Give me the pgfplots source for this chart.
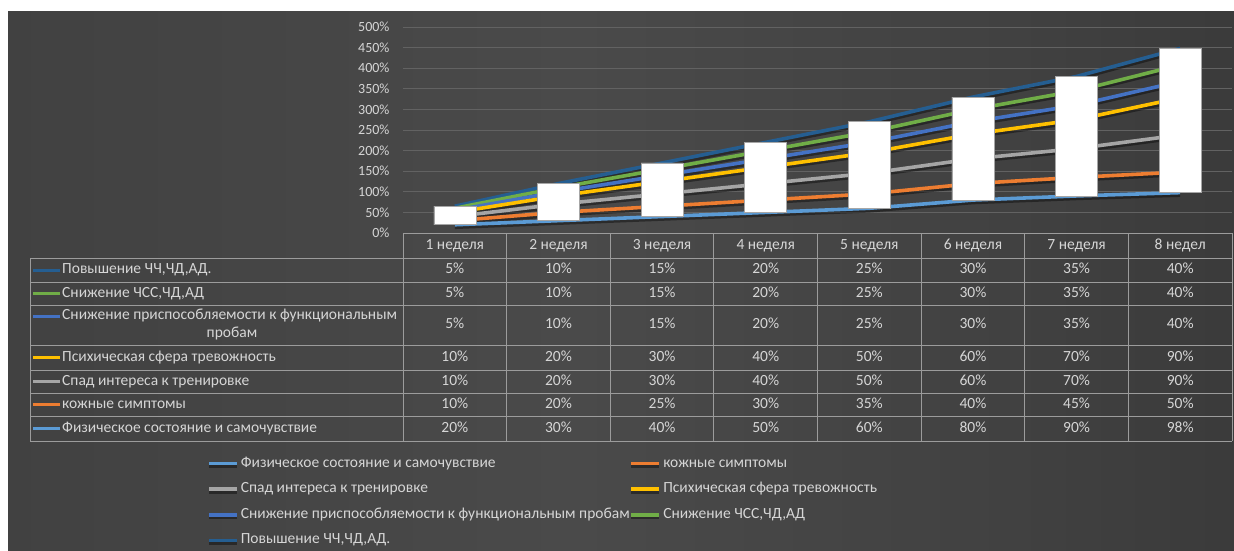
\documentclass[border=0pt]{standalone}
\usepackage{pgfplots}
\pgfplotsset{compat=1.18}
\usepackage{pgfplotstable}
\usepackage{fontspec}
\setmainfont{Carlito}
\definecolor{cPhys}{HTML}{5B9BD5}
\definecolor{cSkin}{HTML}{ED7D31}
\definecolor{cInt}{HTML}{A5A5A5}
\definecolor{cPsy}{HTML}{FFC000}
\definecolor{cAda}{HTML}{4472C4}
\definecolor{cDec}{HTML}{70AD47}
\definecolor{cInc}{HTML}{255E91}
\definecolor{txt}{HTML}{D6D6D6}
\definecolor{gridc}{HTML}{626262}
\definecolor{tline}{HTML}{9C9C9C}
\definecolor{bg0}{HTML}{262626}
\definecolor{bg1}{HTML}{404040}
\definecolor{bg2}{HTML}{4A4A4A}
\definecolor{bg3}{HTML}{414141}
\definecolor{bg4}{HTML}{292929}
\pgfdeclarehorizontalshading{bgshade}{100bp}{color(0bp)=(bg0); color(22bp)=(bg1); color(48bp)=(bg2); color(66bp)=(bg3); color(100bp)=(bg4)}
\newcommand\cf{\fontsize{15.5}{17}\selectfont}

\pgfplotstableread{
x phys skin int psy ada dec inc
1 20 10 10 10 5 5 5
2 30 20 20 20 10 10 10
3 40 25 30 30 15 15 15
4 50 30 40 40 20 20 20
5 60 35 50 50 25 25 25
6 80 40 60 60 30 30 30
7 90 45 70 70 35 35 35
8 98 50 90 90 40 40 40
}\datatable

\begin{document}
\begin{tikzpicture}[x=1pt,y=1pt]
\fill[white] (0,0) rectangle (1234,-551);
\shade[shading=bgshade] (8,-12) rectangle (1234,-551);

% lines axis
\begin{axis}[
  at={(403pt,-233pt)}, anchor=south west,
  scale only axis, width=829pt, height=206pt,
  xmin=0.5, xmax=8.5, ymin=0, ymax=500,
  axis line style={draw=none},
  xtick=\empty,
  ytick={0,50,...,500},
  yticklabel={\pgfmathprintnumber{\tick}\%},
  /pgf/number format/assume math mode=true,
  yticklabel style={text=txt, font=\fontsize{14}{16}\selectfont, xshift=-10pt},
  tick style={draw=none},
  ymajorgrids, major grid style={gridc, line width=0.8pt},
  stack plots=y,
  every axis plot/.append style={line width=3.6pt, line join=round,
     preaction={draw=black, draw opacity=0.4, line width=3.6pt, transform canvas={yshift=-2.5pt}}},
  legend columns=2,
  legend cell align=left,
  legend image code/.code={\draw[#1] (0pt,0pt) -- (28pt,0pt);},
  legend style={at={(axis description cs:-0.2364,-1.087)}, anchor=north west,
     draw=none, fill=none, inner sep=0pt, text=txt, font=\cf,
     column sep=2pt, row sep=12.6pt,
     nodes={inner sep=0pt, text height=10pt, text depth=3pt},
     /tikz/every even column/.append style={column sep=0pt}},
]
\addplot[cPhys] table[x=x,y=phys]{\datatable};
\addlegendentry{Физическое состояние и самочувствие}
\addplot[cSkin] table[x=x,y=skin]{\datatable};
\addlegendentry{кожные симптомы}
\addplot[cInt] table[x=x,y=int]{\datatable};
\addlegendentry{Спад интереса к тренировке}
\addplot[cPsy] table[x=x,y=psy]{\datatable};
\addlegendentry{Психическая сфера тревожность}
\addplot[cAda] table[x=x,y=ada]{\datatable};
\addlegendentry{Снижение приспособляемости к функциональным пробам}
\addplot[cDec] table[x=x,y=dec]{\datatable};
\addlegendentry{Снижение ЧСС,ЧД,АД}
\addplot[cInc] table[x=x,y=inc]{\datatable};
\addlegendentry{Повышение ЧЧ,ЧД,АД.}
\end{axis}

% up/down bars axis: from the first series up to the top of the stack
\begin{axis}[
  at={(403pt,-233pt)}, anchor=south west,
  scale only axis, width=829pt, height=206pt,
  xmin=0.5, xmax=8.5, ymin=0, ymax=500,
  hide axis, ybar stacked, bar width=42pt,
]
\addplot[draw=none, fill=none] table[x=x,y=phys]{\datatable};
\addplot[draw=black!35, line width=0.6pt, fill=white] table[x=x,
  y expr=\thisrow{skin}+\thisrow{int}+\thisrow{psy}+\thisrow{ada}+\thisrow{dec}+\thisrow{inc}]{\datatable};
\end{axis}

% data table
\begin{scope}[tline, line width=0.8pt]
\draw (403,-233) -- (1232,-233);
\foreach \yy in {258,282,305,345,370,393,416,441} \draw (30,-\yy) -- (1232,-\yy);
\draw (30,-258) -- (30,-441);
\foreach \k in {0,...,8} \draw ({403+103.625*\k},-233) -- ({403+103.625*\k},-441);
\end{scope}
\begin{scope}[every node/.style={text=txt, font=\cf, inner sep=0pt, text height=10pt, text depth=3pt}]
\foreach \k in {1,...,7} \node at ({403+103.625*(\k-0.5)},-245.5) {\k{} неделя};
\node at ({403+103.625*7.5},-245.5) {8 недел};
\foreach \col/\yy in {inc/270,dec/293.5,ada/325,psy/357.5,int/381.5,skin/404.5,phys/428.5}{
  \foreach \r in {0,...,7}{
    \pgfplotstablegetelem{\r}{\col}\of\datatable
    \node at ({403+103.625*(\r+0.5)},-\yy) {\pgfplotsretval\%};
  }
}
\node[anchor=west] at (62,-270) {Повышение ЧЧ,ЧД,АД.};
\node[anchor=west] at (62,-293.5) {Снижение ЧСС,ЧД,АД};
\node[anchor=west] at (62,-316) {Снижение приспособляемости к функциональным};
\node at (232,-334) {пробам};
\node[anchor=west] at (62,-357.5) {Психическая сфера тревожность};
\node[anchor=west] at (62,-381.5) {Спад интереса к тренировке};
\node[anchor=west] at (62,-404.5) {кожные симптомы};
\node[anchor=west] at (62,-428.5) {Физическое состояние и самочувствие};
\end{scope}
\foreach \c/\yy in {cInc/270,cDec/293.5,cAda/316,cPsy/357.5,cInt/381.5,cSkin/404.5,cPhys/428.5}
  \draw[\c, line width=3pt] (33,-\yy) -- (60,-\yy);

\pgfresetboundingbox
\path[use as bounding box] (0,0) rectangle (1234,-551);
\end{tikzpicture}
\end{document}
